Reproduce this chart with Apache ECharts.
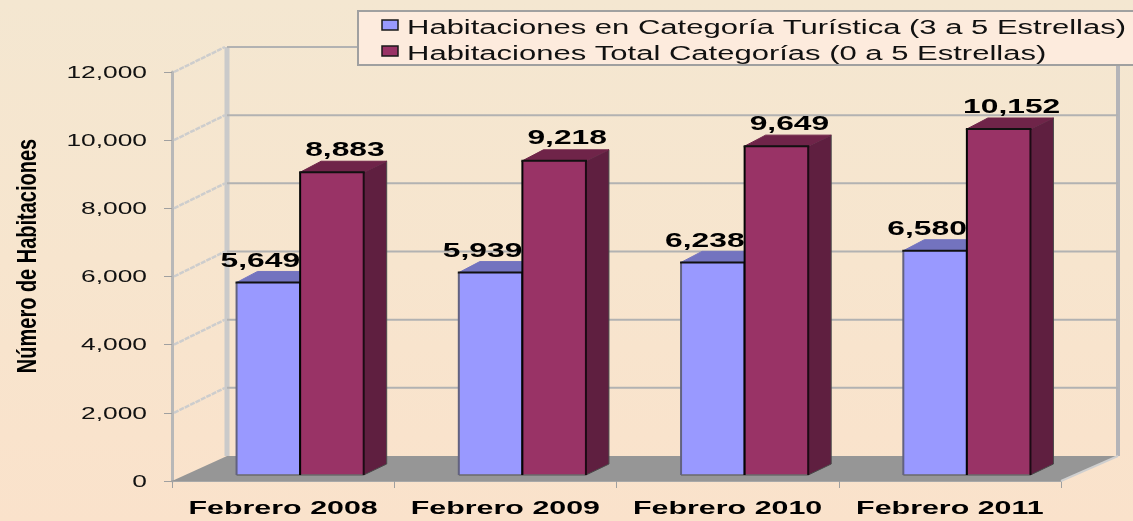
<!DOCTYPE html>
<html>
<head>
<meta charset="utf-8">
<title>Habitaciones</title>
<script src="https://cdn.jsdelivr.net/npm/echarts@6/dist/echarts.min.js"></script>
<style>
    html, body { margin: 0; padding: 0; background: #f7e5ce; }
    #chart { width: 1133px; height: 521px; }
</style>
</head>
<body>
<div id="chart"></div>
<script>
(function () {
    var categories = ['Febrero 2008', 'Febrero 2009', 'Febrero 2010', 'Febrero 2011'];
    var seriesNames = [
        'Habitaciones en Categoría Turística (3 a 5 Estrellas)',
        'Habitaciones Total Categorías (0 a 5 Estrellas)'
    ];
    var turistica = [5649, 5939, 6238, 6580];
    var total = [8883, 9218, 9649, 10152];
    var yTicks = [0, 2000, 4000, 6000, 8000, 10000, 12000];

    var FONT = '"Liberation Sans", Arial, sans-serif';

    function fmt(v) {
        return String(v).replace(/\B(?=(\d{3})+$)/g, ',');
    }

    // paredes y piso del grafico 3D falso
    function renderWall(params, api) {
        var sys = params.coordSys;
        var y = api.coord([0, api.value(1)])[1];
        var left = sys.x, right = sys.x + sys.width;
        var dx = 55, dy = -25;
        var kids = [];
        if (api.value(1) === 0) {
            kids.push({
                type: 'polygon',
                shape: { points: [[left, y], [left + dx, y + dy], [right + 57, y + dy], [right, y]] },
                style: { fill: '#969696' }
            });
            kids.push({
                type: 'line',
                shape: { x1: left + dx, y1: y + dy, x2: left + dx, y2: sys.y + dy },
                style: { stroke: '#cacaca', lineWidth: 5 }
            });
            kids.push({
                type: 'line',
                shape: { x1: right + 57, y1: y + dy, x2: right + 57, y2: sys.y + dy },
                style: { stroke: '#b4b4b8', lineWidth: 4 }
            });
            kids.push({
                type: 'line',
                shape: { x1: right, y1: y, x2: right + 57, y2: y + dy },
                style: { stroke: '#cfcfcf', lineWidth: 2 }
            });
        } else {
            kids.push({
                type: 'line',
                shape: { x1: left + dx, y1: y + dy, x2: right + 57, y2: y + dy },
                style: { stroke: '#b2b2b2', lineWidth: 2 }
            });
            kids.push({
                type: 'line',
                shape: { x1: left + 2, y1: y, x2: left + dx - 2, y2: y + dy },
                style: { stroke: '#cdcdcd', lineWidth: 2.5, lineDash: [5, 1] }
            });
        }
        return { type: 'group', children: kids };
    }

    function barRenderer(side, colors, labelDx, labelDy) {
        return function (params, api) {
            var p = api.coord([api.value(0), api.value(1)]);
            var w = api.size([1, 0])[0] * 0.286;
            var x0 = p[0] + 17 + (side < 0 ? -w : 0);
            var x1 = x0 + w;
            var yTop = p[1] - 6;
            var yBase = api.coord([api.value(0), 0])[1] - 6;
            var dx = 23, dy = -11;
            var cx = (x0 + x1) / 2;
            return {
                type: 'group',
                children: [
                    {
                        type: 'polygon',
                        shape: { points: [[x1, yTop], [x1 + dx, yTop + dy], [x1 + dx, yBase + dy], [x1, yBase]] },
                        style: { fill: colors.dark, stroke: '#4a4a4a', lineWidth: 1 }
                    },
                    {
                        type: 'polygon',
                        shape: { points: [[x0, yTop], [x0 + dx - 2, yTop + dy], [x1 + dx, yTop + dy], [x1, yTop]] },
                        style: { fill: colors.top, stroke: colors.top, lineWidth: 1 }
                    },
                    {
                        type: 'rect',
                        shape: { x: x0, y: yTop, width: w, height: yBase - yTop },
                        style: { fill: colors.front }
                    },
                    // el borde inferior es gris, no negro
                    {
                        type: 'line',
                        shape: { x1: x0, y1: yBase, x2: x1, y2: yBase },
                        style: { stroke: '#6a6a6a', lineWidth: 1.5 }
                    },
                    {
                        type: 'line',
                        shape: { x1: x0, y1: yTop, x2: x0, y2: yBase },
                        style: { stroke: colors.leftEdge, lineWidth: 2 }
                    },
                    {
                        type: 'line',
                        shape: { x1: x1, y1: yTop, x2: x1, y2: yBase },
                        style: { stroke: colors.rightEdge, lineWidth: 2 }
                    },
                    {
                        type: 'line',
                        shape: { x1: x0 - 1, y1: yTop, x2: x1 + 1, y2: yTop },
                        style: { stroke: '#111', lineWidth: 2 }
                    },
                    {
                        type: 'text',
                        x: cx + labelDx,
                        y: yTop + labelDy,
                        scaleX: 1.55,
                        style: {
                            text: fmt(api.value(1)),
                            font: 'bold 20.5px ' + FONT,
                            fill: '#000',
                            align: 'center',
                            verticalAlign: 'middle'
                        }
                    }
                ]
            };
        };
    }

    // etiquetas estiradas, los ejes de echarts no permiten escalar el texto
    function renderYLabel(params, api) {
        var y = api.coord([0, api.value(1)])[1];
        return {
            type: 'text',
            x: params.coordSys.x - 25,
            y: y + 1,
            scaleX: 1.55,
            style: {
                text: fmt(api.value(1)),
                font: '17px ' + FONT,
                fill: '#111',
                align: 'right',
                verticalAlign: 'middle'
            }
        };
    }

    function renderXLabel(params, api) {
        var p = api.coord([api.value(0), 0]);
        return {
            type: 'text',
            x: p[0],
            y: p[1] + 28,
            scaleX: 1.6,
            style: {
                text: categories[api.value(0)],
                font: 'bold 19px ' + FONT,
                fill: '#000',
                align: 'center',
                verticalAlign: 'middle'
            }
        };
    }

    function zipCat(values) {
        return values.map(function (v, i) { return [i, v]; });
    }

    function legendRow(name, y, color) {
        return [
            {
                type: 'rect',
                shape: { x: 382, y: y - 7, width: 16, height: 10 },
                style: { fill: color, stroke: '#1a1a1a', lineWidth: 1.5 },
                z: 11
            },
            {
                type: 'text',
                x: 407,
                y: y + 1,
                scaleX: 1.55,
                style: {
                    text: name,
                    font: '20px ' + FONT,
                    fill: '#111',
                    align: 'left',
                    verticalAlign: 'middle'
                },
                z: 11
            }
        ];
    }

    var option = {
        animation: false,
        backgroundColor: {
            type: 'linear', x: 0, y: 0, x2: 0, y2: 1,
            colorStops: [
                { offset: 0, color: '#f4e7d1' },
                { offset: 0.5, color: '#f7e5ce' },
                { offset: 1, color: '#fae2cb' }
            ]
        },
        grid: { left: 172, right: 72, top: 72, bottom: 40 },
        xAxis: {
            type: 'category',
            data: categories,
            axisLine: { lineStyle: { color: '#a8a8a8', width: 2 } },
            axisTick: { show: true, length: 7, lineStyle: { color: '#a0a0a0', width: 1 } },
            axisLabel: { show: false }
        },
        yAxis: {
            type: 'value',
            min: 0,
            max: 12000,
            interval: 2000,
            axisLine: { show: true, lineStyle: { color: '#b8b8b8', width: 3 } },
            axisTick: { show: true, length: 8, lineStyle: { color: '#a0a0a0', width: 1 } },
            axisLabel: { show: false },
            splitLine: { show: false }
        },
        series: [
            { type: 'custom', name: 'wall', z: 1, silent: true, renderItem: renderWall, data: yTicks.map(function (v) { return [0, v]; }) },
            {
                type: 'custom', name: seriesNames[0], z: 2, data: zipCat(turistica),
                renderItem: barRenderer(-1, { front: '#9999ff', top: '#7373bf', dark: '#5c5c99', leftEdge: '#62627f', rightEdge: '#111' }, -8, -21)
            },
            {
                type: 'custom', name: seriesNames[1], z: 3, data: zipCat(total),
                renderItem: barRenderer(1, { front: '#993366', top: '#6f2449', dark: '#5f1f40', leftEdge: '#050505', rightEdge: '#1d0a14' }, 13, -22)
            },
            { type: 'custom', name: 'yLabels', z: 4, silent: true, renderItem: renderYLabel, data: yTicks.map(function (v) { return [0, v]; }) },
            { type: 'custom', name: 'xLabels', z: 4, silent: true, renderItem: renderXLabel, data: categories.map(function (c, i) { return [i, 0]; }) }
        ],
        graphic: [
            {
                type: 'rect',
                shape: { x: 358, y: 11, width: 790, height: 54 },
                style: { fill: '#fdebdd', stroke: '#a0a0a0', lineWidth: 2 },
                z: 10
            }
        ].concat(legendRow(seriesNames[0], 27, '#9999ff'), legendRow(seriesNames[1], 53, '#993366'), [
            {
                type: 'text',
                x: 29,
                y: 256,
                rotation: Math.PI / 2,
                scaleX: 0.74,
                style: {
                    text: 'Número de Habitaciones',
                    font: 'bold 27px ' + FONT,
                    fill: '#000',
                    align: 'center',
                    verticalAlign: 'middle'
                },
                z: 10
            }
        ])
    };

    var myChart = echarts.init(document.getElementById('chart'));
    myChart.setOption(option);
})();
</script>
</body>
</html>
